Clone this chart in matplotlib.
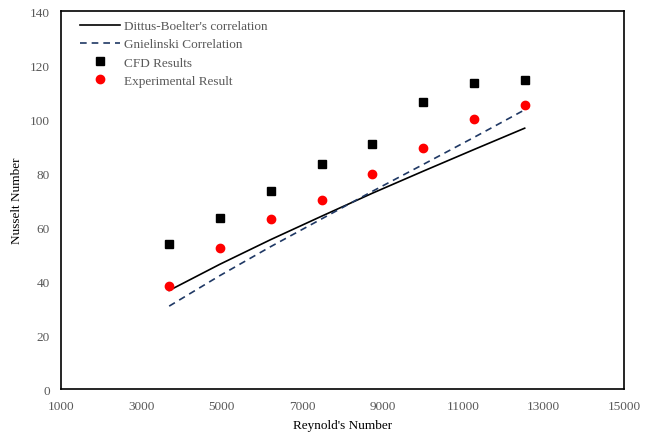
import matplotlib
matplotlib.use("Agg")
import matplotlib.pyplot as plt

plt.rcParams['font.family'] = ['Liberation Serif', 'DejaVu Serif']

# Reynolds numbers of the test runs
reynolds = [3690, 4950, 6210, 7480, 8740, 10010, 11270, 12530]

# Nusselt numbers
dittus_boelter = [36.5, 46.2, 55.3, 64.0, 72.5, 80.7, 88.7, 96.6]
gnielinski = [30.7, 42.0, 52.7, 63.0, 73.2, 83.2, 93.2, 103.4]
cfd = [53.6, 63.2, 73.3, 83.3, 90.9, 106.4, 113.2, 114.5]
experimental = [38.3, 52.3, 63.1, 69.9, 79.7, 89.1, 99.9, 105.2]

x_ticks = [1000, 3000, 5000, 7000, 9000, 11000, 13000, 15000]
y_ticks = [0, 20, 40, 60, 80, 100, 120, 140]

grey = '#595959'

fig = plt.figure(figsize=(6.53, 4.35), dpi=100)
ax = fig.add_axes([0.0934, 0.1034, 0.8622, 0.869])

ax.plot(reynolds, dittus_boelter, color='black', lw=1.2,
        label="Dittus-Boelter's correlation")
ax.plot(reynolds, gnielinski, color='#1F3864', lw=1.2, dashes=(4, 3),
        label='Gnielinski Correlation')
ax.plot(reynolds, cfd, ls='none', marker='s', ms=5.5, color='black',
        label='CFD Results')
ax.plot(reynolds, experimental, ls='none', marker='o', ms=6, color='red',
        label='Experimental Result')

ax.set_xlim(1000, 15000)
ax.set_ylim(0, 140)
ax.set_xticks(x_ticks)
ax.set_yticks(y_ticks)
ax.tick_params(length=0, labelsize=9.5, colors=grey, pad=8)
for s in ax.spines.values():
    s.set_linewidth(1.2)
    s.set_color('black')

ax.set_xlabel("Reynold's Number", fontsize=9.5, labelpad=5)
ax.set_ylabel('Nusselt Number', fontsize=9.5, labelpad=5)

leg = ax.legend(loc='upper left', bbox_to_anchor=(0.02, 0.997), frameon=False,
                fontsize=9.5, handlelength=3.0, handletextpad=0.35,
                labelspacing=0.45, borderaxespad=0.2)
for t in leg.get_texts():
    t.set_color(grey)

fig.savefig('out.png', dpi=100)
